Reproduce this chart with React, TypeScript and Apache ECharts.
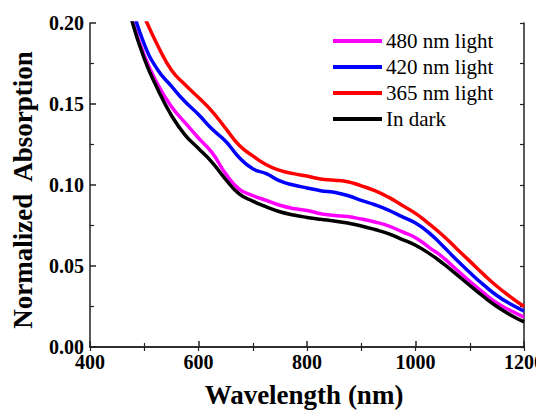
import React, { useEffect, useRef } from "react";
import * as echarts from "echarts";

const wavelengths = [475, 500, 525, 550, 575, 600, 625, 650, 675, 700, 725, 750, 775, 800, 825, 850, 875, 900, 925, 950, 975, 1000, 1025, 1050, 1075, 1100, 1125, 1150, 1175, 1200];

const light480 = [0.205, 0.180, 0.162, 0.1485, 0.1385, 0.129, 0.120, 0.107, 0.0975, 0.0935, 0.0905, 0.0875, 0.0855, 0.0843, 0.0823, 0.0812, 0.0805, 0.0790, 0.0772, 0.0748, 0.0712, 0.0675, 0.0615, 0.0555, 0.0480, 0.0405, 0.0335, 0.0272, 0.0225, 0.0185];
const light420 = [0.213, 0.187, 0.171, 0.161, 0.1515, 0.1435, 0.1345, 0.127, 0.117, 0.110, 0.107, 0.1025, 0.100, 0.0982, 0.0965, 0.0955, 0.0935, 0.0905, 0.0878, 0.0845, 0.0805, 0.0765, 0.0705, 0.0625, 0.0540, 0.0460, 0.0385, 0.0318, 0.0265, 0.0222];
const light365 = [null, 0.204, 0.186, 0.171, 0.162, 0.154, 0.1455, 0.135, 0.1245, 0.118, 0.1125, 0.109, 0.107, 0.1055, 0.1037, 0.1030, 0.1020, 0.0995, 0.0965, 0.0925, 0.0875, 0.0825, 0.0760, 0.0690, 0.0610, 0.0530, 0.0450, 0.0375, 0.0310, 0.0250];
const inDark = [0.204, 0.178, 0.159, 0.143, 0.131, 0.1225, 0.114, 0.1035, 0.0945, 0.090, 0.0865, 0.0835, 0.0815, 0.080, 0.0788, 0.0778, 0.0765, 0.0747, 0.0725, 0.0700, 0.0665, 0.0628, 0.0578, 0.0518, 0.0450, 0.0380, 0.0312, 0.0250, 0.0198, 0.0155];

const seriesNames = ["480 nm light", "420 nm light", "365 nm light", "In dark"];
const seriesColors = ["#ff00ff", "#0000ff", "#ff0000", "#000000"];
const seriesValues = [light480, light420, light365, inDark];

const xTicks = [400, 600, 800, 1000, 1200];
const yTicks = [0, 0.05, 0.1, 0.15, 0.2];
const xTitle = "Wavelength (nm)";
const yTitle = "Normalized  Absorption";

const FONT = "Liberation Serif";

export default function App() {
  const ref = useRef<HTMLDivElement>(null);
  useEffect(() => {
    if (!ref.current) return;
    const chart = echarts.init(ref.current, null, { renderer: "svg" });
    const axisLine = { show: true, lineStyle: { color: "#222", width: 1.5 } };
    chart.setOption({
      animation: false,
      grid: { left: 90, right: 20, top: 23, bottom: 63 },
      xAxis: [
        {
          type: "value",
          min: 400,
          max: 1200,
          interval: 200,
          axisLine,
          axisTick: { show: true, inside: true, length: 6, lineStyle: { color: "#222", width: 1.5 } },
          minorTick: { show: true, splitNumber: 2, length: 4, lineStyle: { color: "#222", width: 1.2 } },
          axisLabel: { show: false },
          splitLine: { show: false },
        },
        {
          type: "value",
          position: "top",
          min: 400,
          max: 1200,
          interval: 100,
          axisLine,
          axisTick: { show: true, inside: true, length: 4, lineStyle: { color: "#222", width: 1.2 } },
          axisLabel: { show: false },
          splitLine: { show: false },
        },
      ],
      yAxis: [
        {
          type: "value",
          min: 0,
          max: 0.2,
          interval: 0.05,
          axisLine,
          axisTick: { show: true, inside: true, length: 6, lineStyle: { color: "#222", width: 1.5 } },
          minorTick: { show: true, splitNumber: 2, length: 4, lineStyle: { color: "#222", width: 1.2 } },
          axisLabel: { show: false },
          splitLine: { show: false },
        },
        {
          type: "value",
          position: "right",
          min: 0,
          max: 0.2,
          interval: 0.025,
          axisLine,
          axisTick: { show: true, inside: true, length: 4, lineStyle: { color: "#222", width: 1.2 } },
          axisLabel: { show: false },
          splitLine: { show: false },
        },
      ],
      series: seriesNames.map((name, i) => ({
        name,
        type: "line",
        xAxisIndex: 0,
        yAxisIndex: 0,
        data: wavelengths.map((w, j) => [w, seriesValues[i][j]]).filter((p) => p[1] !== null),
        smooth: 0.5,
        showSymbol: false,
        symbol: "none",
        clip: true,
        color: seriesColors[i],
        lineStyle: { color: seriesColors[i], width: 3.5 },
      })),
    });

    const px = (v: number) => chart.convertToPixel({ xAxisIndex: 0 }, v) as number;
    const py = (v: number) => chart.convertToPixel({ yAxisIndex: 0 }, v) as number;
    const x0 = px(400);
    const x1 = px(1200);
    const y0 = py(0);
    const y1 = py(0.2);

    const txt = (text: string, x: number, y: number, size: number, bold: boolean, align: string, valign: string, rotation = 0) => ({
      type: "text",
      x,
      y,
      rotation,
      z: 100,
      style: {
        text,
        fontFamily: FONT,
        fontSize: size,
        fontWeight: bold ? "bold" : "normal",
        fill: "#000",
        align,
        verticalAlign: valign,
      },
    });

    const graphics: any[] = [];
    xTicks.forEach((v) => graphics.push(txt(String(v), px(v), y0 + 15, 20, true, "center", "middle")));
    yTicks.forEach((v) => graphics.push(txt(v.toFixed(2), x0 - 6, py(v), 20, true, "right", "middle")));
    graphics.push(txt(xTitle, (x0 + x1) / 2 - 3, y0 + 48, 27, true, "center", "middle"));
    graphics.push(txt(yTitle, 23, (y0 + y1) / 2 + 5, 27, true, "center", "middle", Math.PI / 2));

    const legendLeft = 333;
    const legendTop = 41;
    const legendStep = 26;
    seriesNames.forEach((name, i) => {
      const cy = legendTop + i * legendStep;
      graphics.push({
        type: "rect",
        z: 100,
        shape: { x: legendLeft, y: cy - 2, width: 49, height: 4 },
        style: { fill: seriesColors[i] },
      });
      graphics.push(txt(name, legendLeft + 53, cy, 21, false, "left", "middle"));
    });

    chart.setOption({ graphic: graphics });
    return () => chart.dispose();
  }, []);
  return <div ref={ref} style={{ width: 544, height: 410, margin: "-8px 0 0 -8px" }} />;
}
